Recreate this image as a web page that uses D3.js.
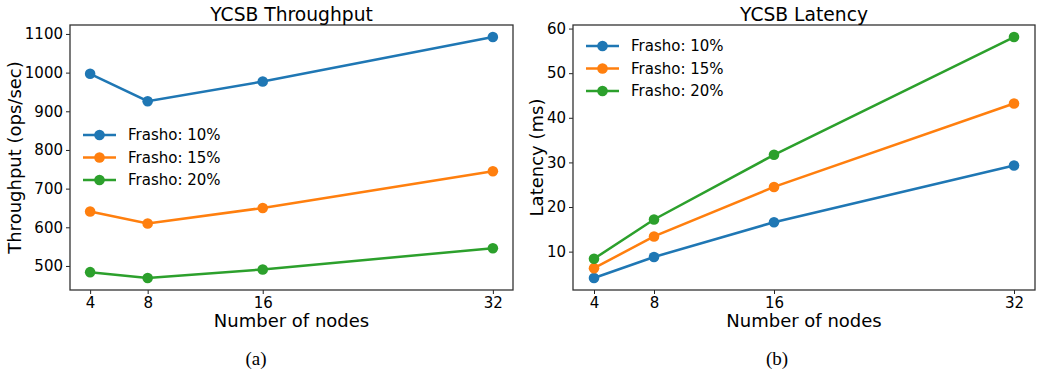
<!DOCTYPE html>
<html>
<head>
<meta charset="utf-8">
<script src="https://d3js.org/d3.v7.min.js"></script>
<style>
  body { margin: 0; background: #fff; }
  svg text { font-family: "DejaVu Sans", sans-serif; fill: #000; }
</style>
</head>
<body>
<div id="chart"></div>
<script>
// data
var nodes = [4, 8, 16, 32];
var seriesNames = ["Frasho: 10%", "Frasho: 15%", "Frasho: 20%"];
var colors = ["#1f77b4", "#ff7f0e", "#2ca02c"];

var throughput10 = [997, 926, 977, 1092];
var throughput15 = [641, 610, 650, 745];
var throughput20 = [484, 469, 491, 546];

var latency10 = [4.1, 8.8, 16.6, 29.3];
var latency15 = [6.3, 13.4, 24.5, 43.2];
var latency20 = [8.4, 17.2, 31.7, 58.1];

var throughputTicks = [500, 600, 700, 800, 900, 1000, 1100];
var latencyTicks = [10, 20, 30, 40, 50, 60];

var W = 1040, H = 377;
var svg = d3.select("#chart").append("svg")
    .attr("width", W).attr("height", H);

// pad domain by 5% like matplotlib does
function padded(lo, hi) {
    var m = (hi - lo) * 0.05;
    return [lo - m, hi + m];
}

function drawPanel(cfg) {
    var g = svg.append("g");
    var x = d3.scaleLinear().domain(padded(4, 32)).range([cfg.left, cfg.right]);
    var all = d3.merge(cfg.series);
    var y = d3.scaleLinear().domain(padded(d3.min(all), d3.max(all))).range([cfg.bottom, cfg.top]);

    // axes
    var xAxis = d3.axisBottom(x).tickValues(nodes).tickSize(4).tickPadding(3).tickFormat(d3.format("d"));
    var yAxis = d3.axisLeft(y).tickValues(cfg.ticks).tickSize(4).tickPadding(3).tickFormat(d3.format("d"));

    var gx = g.append("g").attr("transform", "translate(0," + cfg.bottom + ")").call(xAxis);
    var gy = g.append("g").attr("transform", "translate(" + cfg.left + ",0)").call(yAxis);
    [gx, gy].forEach(function (a) {
        a.select(".domain").remove();
        a.selectAll(".tick line").attr("stroke", "#222").attr("stroke-width", 1);
        a.selectAll(".tick text").style("font-size", "15px").style("font-family", "DejaVu Sans").attr("fill", "#000");
    });

    // frame
    g.append("rect")
        .attr("x", cfg.left).attr("y", cfg.top)
        .attr("width", cfg.right - cfg.left).attr("height", cfg.bottom - cfg.top)
        .attr("fill", "none").attr("stroke", "#333").attr("stroke-width", 1.3);

    var line = d3.line().x(function (d, i) { return x(nodes[i]); }).y(function (d) { return y(d); });

    cfg.series.forEach(function (s, k) {
        g.append("path").datum(s)
            .attr("d", line)
            .attr("fill", "none")
            .attr("stroke", colors[k])
            .attr("stroke-width", 2.5);
        g.selectAll(null).data(s).enter().append("circle")
            .attr("cx", function (d, i) { return x(nodes[i]); })
            .attr("cy", function (d) { return y(d); })
            .attr("r", 5.3)
            .attr("fill", colors[k]);
    });

    // title
    g.append("text")
        .attr("x", (cfg.left + cfg.right) / 2).attr("y", 20.5)
        .attr("text-anchor", "middle")
        .style("font-size", "18.7px")
        .text(cfg.title);

    // x label
    g.append("text")
        .attr("x", (cfg.left + cfg.right) / 2).attr("y", 327)
        .attr("text-anchor", "middle")
        .style("font-size", "18px")
        .text("Number of nodes");

    // y label
    g.append("text")
        .attr("transform", "translate(" + cfg.ylabelX + "," + ((cfg.top + cfg.bottom) / 2) + ") rotate(-90)")
        .attr("text-anchor", "middle")
        .attr("dy", "0.35em")
        .style("font-size", "18px")
        .text(cfg.ylabel);

    // legend
    seriesNames.forEach(function (name, k) {
        var ly = cfg.legY + k * 22.5;
        g.append("line")
            .attr("x1", cfg.legX).attr("x2", cfg.legX + 33)
            .attr("y1", ly).attr("y2", ly)
            .attr("stroke", colors[k]).attr("stroke-width", 2.5);
        g.append("circle")
            .attr("cx", cfg.legX + 16.5).attr("cy", ly).attr("r", 5.3)
            .attr("fill", colors[k]);
        g.append("text")
            .attr("x", cfg.legX + 45).attr("y", ly)
            .attr("dy", "0.35em")
            .style("font-size", "15px")
            .text(name);
    });

    // caption
    g.append("text")
        .attr("x", cfg.captionX).attr("y", 365)
        .attr("text-anchor", "middle")
        .style("font-family", "Liberation Serif, serif")
        .style("font-size", "19px")
        .text(cfg.caption);
}

drawPanel({
    left: 70, right: 513, top: 25, bottom: 290,
    series: [throughput10, throughput15, throughput20],
    ticks: throughputTicks,
    title: "YCSB Throughput",
    ylabel: "Throughput (ops/sec)",
    ylabelX: 15,
    legX: 83, legY: 135,
    caption: "(a)", captionX: 256
});

drawPanel({
    left: 573, right: 1035, top: 25, bottom: 290,
    series: [latency10, latency15, latency20],
    ticks: latencyTicks,
    title: "YCSB Latency",
    ylabel: "Latency (ms)",
    ylabelX: 537,
    legX: 586, legY: 46,
    caption: "(b)", captionX: 777
});
</script>
</body>
</html>
